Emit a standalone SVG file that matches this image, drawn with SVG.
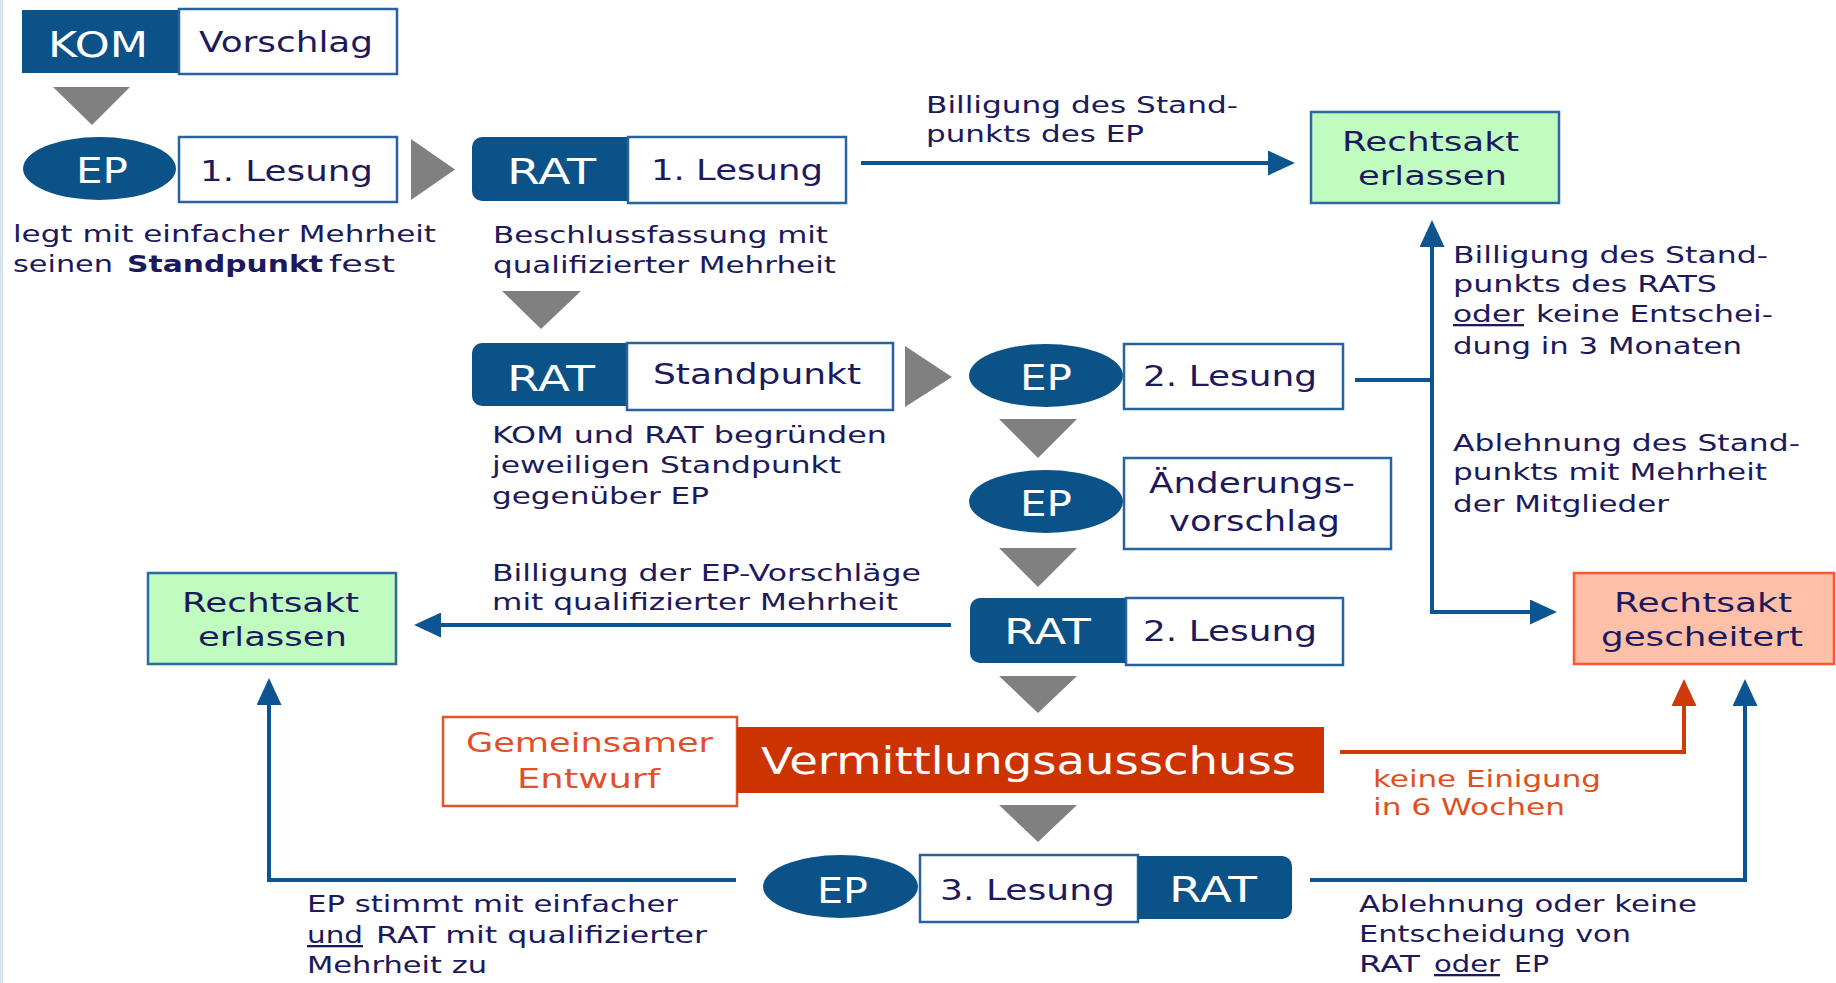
<svg xmlns="http://www.w3.org/2000/svg" width="1836" height="983" viewBox="0 0 1836 983">
<defs>
<style>
text { font-family: "DejaVu Sans", "Liberation Sans", sans-serif; }
.lbl { fill: #1c1a5c; font-size: 23px; }
.org { fill: #e0501e; font-size: 23px; }
.wt { fill: #ffffff; font-size: 35px; }
.bx { fill: #1c1a5c; font-size: 28px; }
.rk { fill: #1c1a5c; font-size: 26px; }
.blue { fill: #0b5288; }
.wbox { fill: #ffffff; stroke: #2763a0; stroke-width: 2.5; }
.green { fill: #c0fbc0; stroke: #2a6aa0; stroke-width: 2.5; }
.red { fill: #ffc0aa; stroke: #ff5533; stroke-width: 2.5; }
.tri { fill: #808080; }
.conn { fill: none; stroke: #0d5590; stroke-width: 4; }
.conn-o { fill: none; stroke: #d03a08; stroke-width: 4; }
.u { text-decoration: underline; }
.b { font-weight: bold; }
</style>
<marker id="ab" markerUnits="userSpaceOnUse" markerWidth="27" markerHeight="25" refX="1" refY="12.5" orient="auto" viewBox="0 0 27 25"><path d="M0,0 L27,12.5 L0,25 Z" fill="#0d5590"/></marker>
<marker id="ao" markerUnits="userSpaceOnUse" markerWidth="27" markerHeight="25" refX="1" refY="12.5" orient="auto" viewBox="0 0 27 25"><path d="M0,0 L27,12.5 L0,25 Z" fill="#d03a08"/></marker>
<marker id="abs" markerUnits="userSpaceOnUse" markerWidth="27" markerHeight="25" refX="1" refY="12.5" orient="auto-start-reverse" viewBox="0 0 27 25"><path d="M0,0 L27,12.5 L0,25 Z" fill="#0d5590"/></marker>
</defs>

<rect x="0" y="0" width="1836" height="983" fill="#ffffff"/>
<rect x="0" y="0" width="3" height="983" fill="#d6e3ef"/>

<g id="connectors">
<path class="conn" d="M861,163 H1269" marker-end="url(#ab)"/>
<path class="conn" d="M1355,380 H1432"/>
<path class="conn" d="M1432,246 V612 H1531" marker-start="url(#abs)" marker-end="url(#ab)"/>
<path class="conn" d="M951,625 H440" marker-end="url(#ab)"/>
<path class="conn" d="M736,880 H269 V704" marker-end="url(#ab)"/>
<path class="conn-o" d="M1340,752 H1684 V705" marker-end="url(#ao)"/>
<path class="conn" d="M1310,880 H1745 V705" marker-end="url(#ab)"/>
</g>

<g id="flow-triangles">
<polygon class="tri" points="53,87 130,87 92,125"/>
<polygon class="tri" points="411,139 455,169.5 411,200"/>
<polygon class="tri" points="502,291 581,291 541,329"/>
<polygon class="tri" points="905,346 952,377 905,407"/>
<polygon class="tri" points="999,419 1077,419 1038,458"/>
<polygon class="tri" points="999,548 1077,548 1038,587"/>
<polygon class="tri" points="999,676 1077,676 1038,713"/>
<polygon class="tri" points="999,805 1077,805 1038,842"/>
</g>

<g id="kom-vorschlag">
<rect class="blue" x="22" y="10" width="157" height="63"/>
<text class="wt" x="48" y="57" textLength="100" lengthAdjust="spacingAndGlyphs">KOM</text>
<rect class="wbox" x="179" y="9" width="218" height="65"/>
<text class="bx" x="199" y="52" textLength="174" lengthAdjust="spacingAndGlyphs">Vorschlag</text>
</g>

<g id="ep-1-lesung">
<ellipse class="blue" cx="99.5" cy="168.5" rx="76.5" ry="31.5"/>
<text class="wt" x="76" y="183" textLength="52" lengthAdjust="spacingAndGlyphs">EP</text>
<rect class="wbox" x="179" y="137" width="218" height="65"/>
<text class="bx" x="200" y="181" textLength="173" lengthAdjust="spacingAndGlyphs">1. Lesung</text>
</g>

<g id="note-ep1">
<text class="lbl" x="13" y="242" textLength="423" lengthAdjust="spacingAndGlyphs">legt mit einfacher Mehrheit</text>
<text class="lbl" x="13" y="272" textLength="100" lengthAdjust="spacingAndGlyphs">seinen</text>
<text class="lbl b" x="127" y="272" textLength="196" lengthAdjust="spacingAndGlyphs">Standpunkt</text>
<text class="lbl" x="329" y="272" textLength="66" lengthAdjust="spacingAndGlyphs">fest</text>
</g>

<g id="rat-1-lesung">
<path class="blue" d="M482,137 H628 V201 H482 A10,10 0 0 1 472,191 V147 A10,10 0 0 1 482,137 Z"/>
<text class="wt" x="507" y="184" textLength="89" lengthAdjust="spacingAndGlyphs">RAT</text>
<rect class="wbox" x="628" y="137" width="218" height="66"/>
<text class="bx" x="651" y="180" textLength="172" lengthAdjust="spacingAndGlyphs">1. Lesung</text>
</g>

<g id="note-rat1">
<text class="lbl" x="493" y="243" textLength="335" lengthAdjust="spacingAndGlyphs">Beschlussfassung mit</text>
<text class="lbl" x="493" y="273" textLength="343" lengthAdjust="spacingAndGlyphs">qualifizierter Mehrheit</text>
</g>

<g id="note-billigung-ep">
<text class="lbl" x="926" y="113" textLength="312" lengthAdjust="spacingAndGlyphs">Billigung des Stand-</text>
<text class="lbl" x="926" y="142" textLength="218" lengthAdjust="spacingAndGlyphs">punkts des EP</text>
</g>

<g id="rechtsakt-erlassen-1">
<rect class="green" x="1311" y="112" width="248" height="91"/>
<text class="rk" x="1342" y="151" textLength="177" lengthAdjust="spacingAndGlyphs">Rechtsakt</text>
<text class="rk" x="1358" y="185" textLength="149" lengthAdjust="spacingAndGlyphs">erlassen</text>
</g>

<g id="rat-standpunkt">
<path class="blue" d="M482,343 H627 V406 H482 A10,10 0 0 1 472,396 V353 A10,10 0 0 1 482,343 Z"/>
<text class="wt" x="507" y="391" textLength="88" lengthAdjust="spacingAndGlyphs">RAT</text>
<rect class="wbox" x="627" y="343" width="266" height="67"/>
<text class="bx" x="653" y="384" textLength="208" lengthAdjust="spacingAndGlyphs">Standpunkt</text>
</g>

<g id="note-rat-standpunkt">
<text class="lbl" x="492" y="443" textLength="395" lengthAdjust="spacingAndGlyphs">KOM und RAT begründen</text>
<text class="lbl" x="492" y="473" textLength="349" lengthAdjust="spacingAndGlyphs">jeweiligen Standpunkt</text>
<text class="lbl" x="492" y="504" textLength="217" lengthAdjust="spacingAndGlyphs">gegenüber EP</text>
</g>

<g id="ep-2-lesung">
<ellipse class="blue" cx="1046" cy="375.5" rx="77" ry="31.5"/>
<text class="wt" x="1020" y="390" textLength="52" lengthAdjust="spacingAndGlyphs">EP</text>
<rect class="wbox" x="1124" y="344" width="219" height="65"/>
<text class="bx" x="1143" y="386" textLength="174" lengthAdjust="spacingAndGlyphs">2. Lesung</text>
</g>

<g id="note-billigung-rat">
<text class="lbl" x="1453" y="263" textLength="315" lengthAdjust="spacingAndGlyphs">Billigung des Stand-</text>
<text class="lbl" x="1453" y="292" textLength="264" lengthAdjust="spacingAndGlyphs">punkts des RATS</text>
<text class="lbl u" x="1453" y="322" textLength="71" lengthAdjust="spacingAndGlyphs">oder</text>
<text class="lbl" x="1536" y="322" textLength="237" lengthAdjust="spacingAndGlyphs">keine Entschei-</text>
<text class="lbl" x="1453" y="354" textLength="289" lengthAdjust="spacingAndGlyphs">dung in 3 Monaten</text>
</g>

<g id="note-ablehnung-ep">
<text class="lbl" x="1453" y="451" textLength="347" lengthAdjust="spacingAndGlyphs">Ablehnung des Stand-</text>
<text class="lbl" x="1453" y="480" textLength="314" lengthAdjust="spacingAndGlyphs">punkts mit Mehrheit</text>
<text class="lbl" x="1453" y="512" textLength="216" lengthAdjust="spacingAndGlyphs">der Mitglieder</text>
</g>

<g id="ep-aenderungsvorschlag">
<ellipse class="blue" cx="1046" cy="501.5" rx="77" ry="31.5"/>
<text class="wt" x="1020" y="516" textLength="52" lengthAdjust="spacingAndGlyphs">EP</text>
<rect class="wbox" x="1124" y="458" width="267" height="91"/>
<text class="bx" x="1149" y="493" textLength="206" lengthAdjust="spacingAndGlyphs">Änderungs-</text>
<text class="bx" x="1169" y="531" textLength="171" lengthAdjust="spacingAndGlyphs">vorschlag</text>
</g>

<g id="note-billigung-ep-vorschlaege">
<text class="lbl" x="492" y="581" textLength="429" lengthAdjust="spacingAndGlyphs">Billigung der EP-Vorschläge</text>
<text class="lbl" x="492" y="610" textLength="406" lengthAdjust="spacingAndGlyphs">mit qualifizierter Mehrheit</text>
</g>

<g id="rat-2-lesung">
<path class="blue" d="M980,598 H1126 V663 H980 A10,10 0 0 1 970,653 V608 A10,10 0 0 1 980,598 Z"/>
<text class="wt" x="1004" y="644" textLength="87" lengthAdjust="spacingAndGlyphs">RAT</text>
<rect class="wbox" x="1126" y="598" width="217" height="67"/>
<text class="bx" x="1143" y="641" textLength="174" lengthAdjust="spacingAndGlyphs">2. Lesung</text>
</g>

<g id="rechtsakt-erlassen-2">
<rect class="green" x="148" y="573" width="248" height="91"/>
<text class="rk" x="182" y="612" textLength="177" lengthAdjust="spacingAndGlyphs">Rechtsakt</text>
<text class="rk" x="198" y="646" textLength="149" lengthAdjust="spacingAndGlyphs">erlassen</text>
</g>

<g id="rechtsakt-gescheitert">
<rect class="red" x="1574" y="573" width="260" height="91"/>
<text class="rk" x="1614" y="612" textLength="178" lengthAdjust="spacingAndGlyphs">Rechtsakt</text>
<text class="rk" x="1601" y="646" textLength="202" lengthAdjust="spacingAndGlyphs">gescheitert</text>
</g>

<g id="gemeinsamer-entwurf">
<rect x="443" y="717" width="294" height="89" fill="#ffffff" stroke="#e0552a" stroke-width="2.5"/>
<text fill="#e0502a" font-size="26" x="466" y="752" textLength="247" lengthAdjust="spacingAndGlyphs">Gemeinsamer</text>
<text fill="#e0502a" font-size="26" x="517" y="788" textLength="143" lengthAdjust="spacingAndGlyphs">Entwurf</text>
</g>

<g id="vermittlungsausschuss">
<rect x="737" y="727" width="587" height="66" fill="#cc3300"/>
<text fill="#ffffff" font-size="37" x="761" y="774" textLength="535" lengthAdjust="spacingAndGlyphs">Vermittlungsausschuss</text>
</g>

<g id="note-keine-einigung">
<text class="org" x="1373" y="787" textLength="228" lengthAdjust="spacingAndGlyphs">keine Einigung</text>
<text class="org" x="1373" y="815" textLength="192" lengthAdjust="spacingAndGlyphs">in 6 Wochen</text>
</g>

<g id="ep-3-lesung-rat">
<ellipse class="blue" cx="840.5" cy="886.5" rx="77.5" ry="31.5"/>
<text class="wt" x="817" y="903" textLength="51" lengthAdjust="spacingAndGlyphs">EP</text>
<rect class="wbox" x="920" y="855" width="218" height="67"/>
<text class="bx" x="940" y="900" textLength="175" lengthAdjust="spacingAndGlyphs">3. Lesung</text>
<path class="blue" d="M1138,856 H1282 A10,10 0 0 1 1292,866 V909 A10,10 0 0 1 1282,919 H1138 Z"/>
<text class="wt" x="1169" y="902" textLength="88" lengthAdjust="spacingAndGlyphs">RAT</text>
</g>

<g id="note-ep-stimmt">
<text class="lbl" x="307" y="912" textLength="371" lengthAdjust="spacingAndGlyphs">EP stimmt mit einfacher</text>
<text class="lbl u" x="307" y="943" textLength="56" lengthAdjust="spacingAndGlyphs">und</text>
<text class="lbl" x="376" y="943" textLength="331" lengthAdjust="spacingAndGlyphs">RAT mit qualifizierter</text>
<text class="lbl" x="307" y="973" textLength="180" lengthAdjust="spacingAndGlyphs">Mehrheit zu</text>
</g>

<g id="note-ablehnung-3">
<text class="lbl" x="1359" y="912" textLength="338" lengthAdjust="spacingAndGlyphs">Ablehnung oder keine</text>
<text class="lbl" x="1359" y="942" textLength="272" lengthAdjust="spacingAndGlyphs">Entscheidung von</text>
<text class="lbl" x="1359" y="972" textLength="61" lengthAdjust="spacingAndGlyphs">RAT</text>
<text class="lbl u" x="1434" y="972" textLength="66" lengthAdjust="spacingAndGlyphs">oder</text>
<text class="lbl" x="1514" y="972" textLength="35" lengthAdjust="spacingAndGlyphs">EP</text>
</g>
</svg>
